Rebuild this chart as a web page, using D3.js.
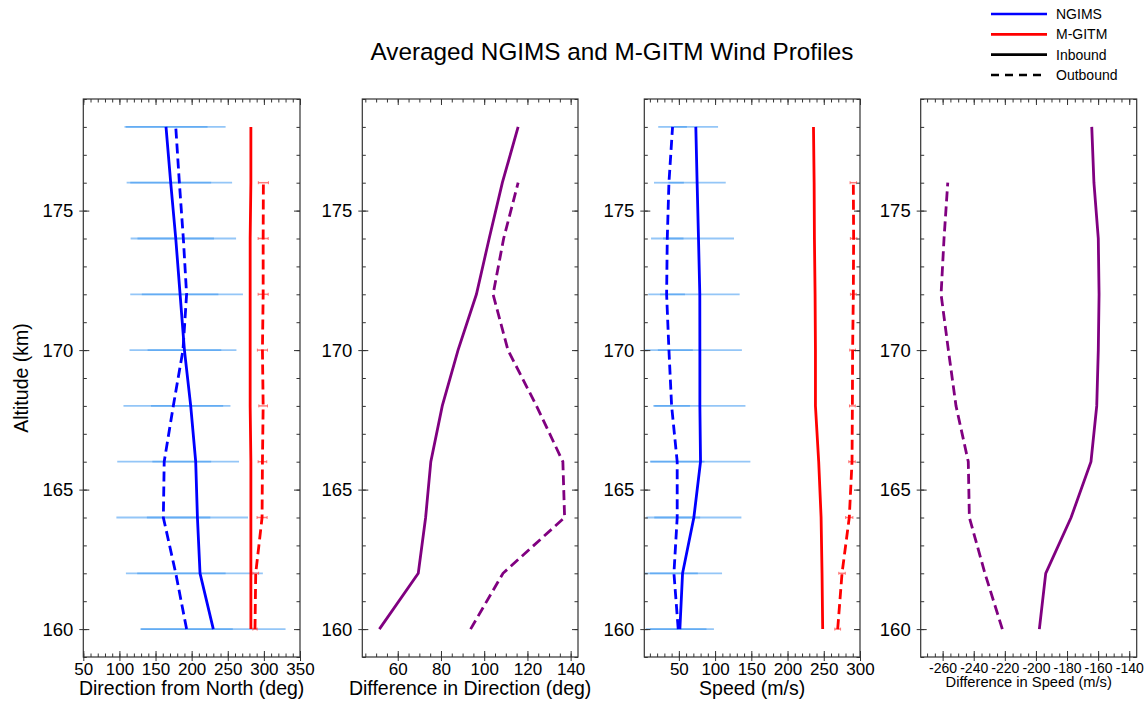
<!DOCTYPE html>
<html>
<head>
<meta charset="utf-8">
<script src="https://cdn.jsdelivr.net/npm/d3@7/dist/d3.min.js"></script>
<style>
  html, body { margin: 0; padding: 0; background: #fff; }
  svg { display: block; font-family: "Liberation Sans", Arial, Helvetica, sans-serif; }
</style>
</head>
<body>
<svg id="chart" width="1147" height="704"></svg>
<script>
// ---------------- DATA ----------------
const altitudes    = [160, 162, 164, 166, 168, 170, 172, 174, 176, 178];
const altitudesOut = [160, 162, 164, 166, 168, 170, 172, 174, 176];

// Panel 1: Direction from North (deg)
const ngimsDirIn     = [230, 211.6, 208, 205.6, 198.7, 190, 184, 178, 171, 164.5];
const ngimsDirOut    = [193, 178, 160.8, 162, 174.6, 188, 193, 188.5, 183, 178];
const ngimsDirInErr  = [100, 87, 70, 60, 55, 51, 53, 53, 56, 57.5];
const ngimsDirOutErr = [64, 69, 65, 65, 69, 74, 78, 73, 73, 69];
const mgitmDirIn     = [282, 282, 282, 282, 281, 281, 281, 281, 282, 282];
const mgitmDirOut    = [287.7, 288.7, 297.5, 298, 299, 298, 299, 299, 299.3];
const mgitmDirOutErr = [3, 4, 7, 6, 6, 7, 7, 7, 7];

// Panel 2: Difference in Direction (deg)
const dirDiffIn  = [51.5, 69.5, 72.9, 75.3, 80.6, 87.9, 96.4, 102.3, 108.4, 115.7];
const dirDiffOut = [93.7, 108.7, 137.2, 136.4, 124.2, 111, 104.1, 109, 115.7];

// Panel 3: Speed (m/s)
const ngimsSpdIn     = [51.4, 55.1, 70.7, 79.9, 79, 79, 78.9, 77.1, 75.2, 73.4];
const ngimsSpdOut    = [49.1, 43.2, 47.7, 47.7, 40, 36.3, 33.1, 34, 36.3, 41.3];
const ngimsSpdInErr  = [47, 54.5, 65.6, 68.8, 62.9, 58, 55, 49, 39.5, 30.7];
const ngimsSpdOutErr = [39, 33, 31.6, 37.6, 25.3, 33, 25.3, 22.4, 20.6, 19.8];
const mgitmSpdIn     = [248.5, 247.6, 246.3, 243, 238.5, 238.5, 238, 237.1, 236.7, 235.8];
const mgitmSpdOut    = [269.2, 275.2, 285.2, 289, 289.5, 289.8, 290.8, 291.2, 290.8];
const mgitmSpdOutErr = [4, 4.5, 5, 4.5, 4, 4, 4, 4.5, 4.5];

// Panel 4: Difference in Speed (m/s)
const spdDiffIn  = [-197.8, -193.7, -177.4, -164.6, -160.9, -159.9, -159.4, -159.9, -162.7, -164.1];
const spdDiffOut = [-221.6, -232.8, -242.8, -243.5, -251.4, -256.3, -261, -259.1, -256.7];

// Tick labels
const altTicks      = [160, 165, 170, 175];
const dirTicks      = [50, 100, 150, 200, 250, 300, 350];
const dirDiffTicks  = [60, 80, 100, 120, 140];
const spdTicks      = [50, 100, 150, 200, 250, 300];
const spdDiffTicks  = [-260, -240, -220, -200, -180, -160, -140];

const titleText = "Averaged NGIMS and M-GITM Wind Profiles";
const legendItems = [
  {label: "NGIMS", color: "#0000ff", dash: null},
  {label: "M-GITM", color: "#ff0000", dash: null},
  {label: "Inbound", color: "#000000", dash: null},
  {label: "Outbound", color: "#000000", dash: "8,6"}
];

// ---------------- LAYOUT ----------------
const svg = d3.select("#chart");
const plotTop = 99, plotBottom = 657;
const BLUE = "#0000ff", RED = "#ff0000", PURPLE = "#800080";
const ERRBLUE = "#3d98f0", ERRRED = "#ff5050";
const DASH = "10,5";
const fmt = d => String(d);

const y = d3.scaleLinear().domain([159, 179]).range([plotBottom, plotTop]);
const altMinor = d3.range(159, 180, 1);

const panels = [
  { x0: 83.3, x1: 300, domain: [50, 350], ticks: dirTicks, minorStep: 10,
    label: "Direction from North (deg)", fs: 17, labFs: 19.5, labY: 695,
    errs: [
      {alts: altitudes, vals: ngimsDirIn, err: ngimsDirInErr, color: ERRBLUE, cap: false},
      {alts: altitudes, vals: ngimsDirOut, err: ngimsDirOutErr, color: ERRBLUE, cap: false},
      {alts: altitudesOut, vals: mgitmDirOut, err: mgitmDirOutErr, color: ERRRED, cap: true}
    ],
    lines: [
      {alts: altitudes, vals: ngimsDirIn, color: BLUE, dash: null},
      {alts: altitudes, vals: ngimsDirOut, color: BLUE, dash: DASH},
      {alts: altitudes, vals: mgitmDirIn, color: RED, dash: null},
      {alts: altitudesOut, vals: mgitmDirOut, color: RED, dash: DASH}
    ]},
  { x0: 362.3, x1: 578, domain: [43.6, 143.4], ticks: dirDiffTicks, minorStep: 5,
    label: "Difference in Direction (deg)", fs: 17, labFs: 19.5, labY: 695,
    errs: [],
    lines: [
      {alts: altitudes, vals: dirDiffIn, color: PURPLE, dash: null},
      {alts: altitudesOut, vals: dirDiffOut, color: PURPLE, dash: DASH}
    ]},
  { x0: 644.3, x1: 860, domain: [2.3, 300], ticks: spdTicks, minorStep: 10,
    label: "Speed (m/s)", fs: 17, labFs: 19.5, labY: 695,
    errs: [
      {alts: altitudes, vals: ngimsSpdIn, err: ngimsSpdInErr, color: ERRBLUE, cap: false},
      {alts: altitudes, vals: ngimsSpdOut, err: ngimsSpdOutErr, color: ERRBLUE, cap: false},
      {alts: altitudesOut, vals: mgitmSpdOut, err: mgitmSpdOutErr, color: ERRRED, cap: true}
    ],
    lines: [
      {alts: altitudes, vals: ngimsSpdIn, color: BLUE, dash: null},
      {alts: altitudes, vals: ngimsSpdOut, color: BLUE, dash: DASH},
      {alts: altitudes, vals: mgitmSpdIn, color: RED, dash: null},
      {alts: altitudesOut, vals: mgitmSpdOut, color: RED, dash: DASH}
    ]},
  { x0: 920.7, x1: 1136.7, domain: [-274.1, -135.2], ticks: spdDiffTicks, minorStep: 5,
    label: "Difference in Speed (m/s)", fs: 14, labFs: 14.7, labY: 687,
    errs: [],
    lines: [
      {alts: altitudes, vals: spdDiffIn, color: PURPLE, dash: null},
      {alts: altitudesOut, vals: spdDiffOut, color: PURPLE, dash: DASH}
    ]}
];

function styleAxis(g, fs) {
  g.select(".domain").remove();
  g.selectAll("line").attr("stroke", "#333").attr("stroke-width", 1);
  g.selectAll("text").attr("fill", "#000").style("font-size", fs + "px")
    .style("font-family", '"Liberation Sans", Arial, sans-serif');
}

panels.forEach(p => {
  const x = d3.scaleLinear().domain(p.domain).range([p.x0, p.x1]);
  const g = svg.append("g");
  const lo = Math.ceil(p.domain[0] / p.minorStep) * p.minorStep;
  const xMinor = d3.range(lo, p.domain[1] + 1e-9, p.minorStep);

  // Error bars
  p.errs.forEach(e => {
    const eg = g.append("g");
    e.alts.forEach((a, i) => {
      const v = e.vals[i], er = e.err[i];
      const xa = Math.max(x(v - er), p.x0), xb = Math.min(x(v + er), p.x1);
      eg.append("line")
        .attr("x1", xa).attr("x2", xb).attr("y1", y(a)).attr("y2", y(a))
        .attr("stroke", e.color).attr("stroke-width", e.cap ? 1.5 : 1.8)
        .attr("stroke-opacity", e.cap ? 0.75 : 0.55);
      if (e.cap) {
        [xa, xb].forEach(xx => eg.append("line")
          .attr("x1", xx).attr("x2", xx).attr("y1", y(a) - 1.5).attr("y2", y(a) + 1.5)
          .attr("stroke", e.color).attr("stroke-width", 1).attr("stroke-opacity", 0.75));
      }
    });
  });

  // Lines
  p.lines.forEach(l => {
    const pts = l.alts.map((a, i) => [l.vals[i], a]);
    const line = d3.line().x(d => x(d[0])).y(d => y(d[1]));
    g.append("path").datum(pts)
      .attr("d", line).attr("fill", "none")
      .attr("stroke", l.color).attr("stroke-width", 2.8)
      .attr("stroke-dasharray", l.dash);
  });

  // Frame
  g.append("rect").attr("x", p.x0).attr("y", plotTop)
    .attr("width", p.x1 - p.x0).attr("height", plotBottom - plotTop)
    .attr("fill", "none").attr("stroke", "#333").attr("stroke-width", 1.2);

  // Bottom axis: labels + outward majors
  const bx = g.append("g").attr("transform", `translate(0,${plotBottom})`)
    .call(d3.axisBottom(x).tickValues(p.ticks).tickFormat(fmt).tickSizeInner(4).tickSizeOuter(0).tickPadding(2));
  styleAxis(bx, p.fs);
  const bxi = g.append("g").attr("transform", `translate(0,${plotBottom})`)
    .call(d3.axisBottom(x).tickValues(p.ticks).tickSize(-6).tickFormat(""));
  styleAxis(bxi, p.fs);
  const bxm = g.append("g").attr("transform", `translate(0,${plotBottom})`)
    .call(d3.axisBottom(x).tickValues(xMinor).tickSize(-3.5).tickFormat(""));
  styleAxis(bxm, p.fs);
  // top axis
  const tx = g.append("g").attr("transform", `translate(0,${plotTop})`)
    .call(d3.axisTop(x).tickValues(p.ticks).tickSize(-6).tickFormat(""));
  styleAxis(tx, p.fs);
  const txm = g.append("g").attr("transform", `translate(0,${plotTop})`)
    .call(d3.axisTop(x).tickValues(xMinor).tickSize(-3.5).tickFormat(""));
  styleAxis(txm, p.fs);

  // Left axis
  const ly = g.append("g").attr("transform", `translate(${p.x0},0)`)
    .call(d3.axisLeft(y).tickValues(altTicks).tickFormat(fmt).tickSizeInner(4).tickSizeOuter(0).tickPadding(6));
  styleAxis(ly, 18.5);
  const lyi = g.append("g").attr("transform", `translate(${p.x0},0)`)
    .call(d3.axisLeft(y).tickValues(altTicks).tickSize(-6).tickFormat(""));
  styleAxis(lyi, 18.5);
  const lym = g.append("g").attr("transform", `translate(${p.x0},0)`)
    .call(d3.axisLeft(y).tickValues(altMinor).tickSize(-3.5).tickFormat(""));
  styleAxis(lym, 18.5);
  // Right axis
  const ry = g.append("g").attr("transform", `translate(${p.x1},0)`)
    .call(d3.axisRight(y).tickValues(altTicks).tickSize(-6).tickFormat(""));
  styleAxis(ry, 18.5);
  const rym = g.append("g").attr("transform", `translate(${p.x1},0)`)
    .call(d3.axisRight(y).tickValues(altMinor).tickSize(-3.5).tickFormat(""));
  styleAxis(rym, 18.5);

  // Axis title
  g.append("text").attr("x", (p.x0 + p.x1) / 2).attr("y", p.labY)
    .attr("text-anchor", "middle").style("font-size", p.labFs + "px")
    .text(p.label);
});

// Y-axis title
svg.append("text")
  .attr("transform", `translate(28,${(plotTop + plotBottom) / 2}) rotate(-90)`)
  .attr("text-anchor", "middle").style("font-size", "19.5px")
  .text("Altitude (km)");

// Title
svg.append("text").attr("x", 612).attr("y", 60)
  .attr("text-anchor", "middle").style("font-size", "24.3px")
  .text(titleText);

// Legend
const leg = svg.append("g");
const legY = d3.scalePoint().domain(legendItems.map(d => d.label)).range([14, 75]);
legendItems.forEach(it => {
  leg.append("line").attr("x1", 991).attr("x2", 1047)
    .attr("y1", legY(it.label)).attr("y2", legY(it.label))
    .attr("stroke", it.color).attr("stroke-width", 2.6)
    .attr("stroke-dasharray", it.dash);
  leg.append("text").attr("x", 1056).attr("y", legY(it.label) + 5)
    .style("font-size", "14px").text(it.label);
});
</script>
</body>
</html>
